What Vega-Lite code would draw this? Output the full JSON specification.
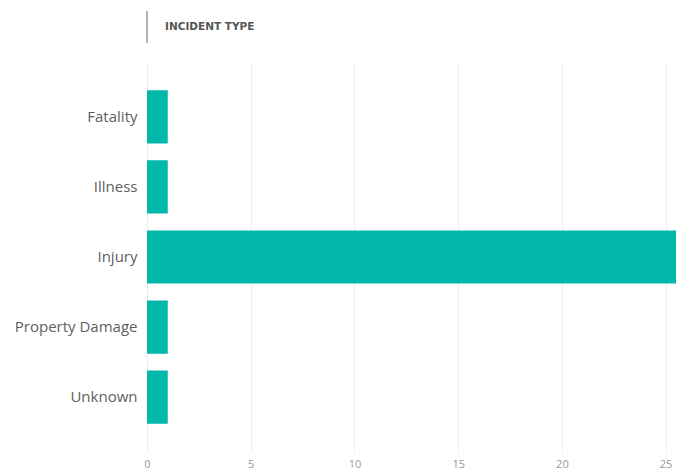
{
  "$schema": "https://vega.github.io/schema/vega-lite/v6.json",
  "padding": {"left": 5, "top": 10, "right": 0, "bottom": 0},
  "background": "white",
  "spacing": 19,
  "config": {"view": {"stroke": null}, "font": "Open Sans"},
  "vconcat": [
    {
      "width": 529,
      "height": 32,
      "data": {"values": [{"label": "INCIDENT TYPE"}]},
      "layer": [
        {
          "mark": {"type": "rule", "color": "#999999", "strokeWidth": 1.5},
          "encoding": {
            "x": {"datum": 0, "type": "quantitative", "scale": {"domain": [0, 25.5], "nice": false}, "axis": null}
          }
        },
        {
          "mark": {"type": "text", "align": "left", "baseline": "middle", "dx": 18, "fontSize": 10.5, "fontWeight": "bold", "color": "#555555", "font": "DejaVu Sans"},
          "encoding": {
            "x": {"datum": 0, "type": "quantitative", "scale": {"domain": [0, 25.5], "nice": false}, "axis": null},
            "text": {"field": "label"}
          }
        }
      ]
    },
    {
      "width": 529,
      "height": 388,
      "data": {
        "values": [
          {"type": "Fatality", "count": 1},
          {"type": "Illness", "count": 1},
          {"type": "Injury", "count": 26},
          {"type": "Property Damage", "count": 1},
          {"type": "Unknown", "count": 1}
        ]
      },
      "mark": {"type": "bar", "color": "#01B8AA", "clip": true},
      "encoding": {
        "y": {
          "field": "type", "type": "nominal", "sort": null,
          "scale": {"paddingInner": 0.24, "paddingOuter": 0.39},
          "axis": {"title": null, "domain": false, "ticks": false, "labelPadding": 10, "labelFontSize": 15, "labelColor": "#606060", "labelFont": "Open Sans", "minExtent": 142, "maxExtent": 142}
        },
        "x": {
          "field": "count", "type": "quantitative",
          "scale": {"domain": [0, 25.5], "nice": false},
          "axis": {"title": null, "domain": false, "ticks": false, "values": [0, 5, 10, 15, 20, 25], "labelPadding": 7, "labelFontSize": 11, "labelColor": "#999999", "labelFont": "Open Sans", "gridColor": "#eeeeee", "labelFlush": false}
        }
      }
    }
  ]
}
